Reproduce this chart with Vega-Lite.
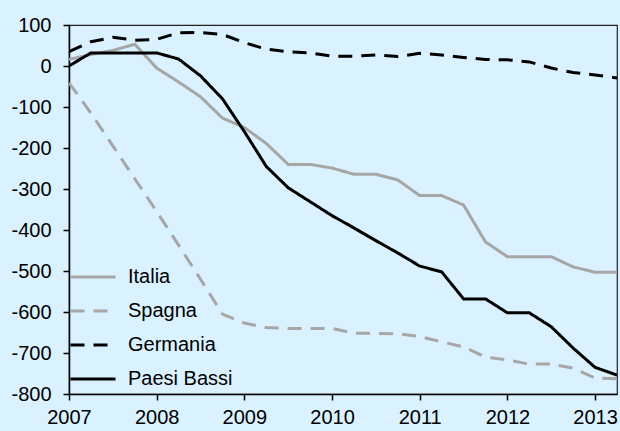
{
  "$schema": "https://vega.github.io/schema/vega-lite/v6.json",
  "width": 548,
  "height": 369,
  "autosize": {"type": "none"},
  "padding": {"left": 69, "top": 25, "right": 3, "bottom": 37},
  "background": "#DAF1FF",
  "config": {
    "font": "Liberation Sans",
    "view": {"stroke": "#222222", "strokeWidth": 1.2, "fill": "#DAF1FF"}
  },
  "data": {
    "values": [
      {"t": 2007.0, "Italia": 16, "Spagna": -41, "Germania": 35, "Paesi Bassi": 0},
      {"t": 2007.25, "Italia": 28, "Spagna": -115, "Germania": 59, "Paesi Bassi": 32},
      {"t": 2007.5, "Italia": 38, "Spagna": -195, "Germania": 70, "Paesi Bassi": 32},
      {"t": 2007.75, "Italia": 53, "Spagna": -275, "Germania": 63, "Paesi Bassi": 32},
      {"t": 2008.0, "Italia": -5, "Spagna": -355, "Germania": 65, "Paesi Bassi": 32},
      {"t": 2008.25, "Italia": -39, "Spagna": -437, "Germania": 81, "Paesi Bassi": 17},
      {"t": 2008.5, "Italia": -75, "Spagna": -520, "Germania": 82, "Paesi Bassi": -24},
      {"t": 2008.75, "Italia": -127, "Spagna": -605, "Germania": 77, "Paesi Bassi": -80},
      {"t": 2009.0, "Italia": -150, "Spagna": -627, "Germania": 57, "Paesi Bassi": -160},
      {"t": 2009.25, "Italia": -189, "Spagna": -638, "Germania": 41, "Paesi Bassi": -245},
      {"t": 2009.5, "Italia": -240, "Spagna": -640, "Germania": 35, "Paesi Bassi": -297},
      {"t": 2009.75, "Italia": -240, "Spagna": -640, "Germania": 32, "Paesi Bassi": -331},
      {"t": 2010.0, "Italia": -249, "Spagna": -640, "Germania": 24, "Paesi Bassi": -365},
      {"t": 2010.25, "Italia": -264, "Spagna": -652, "Germania": 24, "Paesi Bassi": -395},
      {"t": 2010.5, "Italia": -264, "Spagna": -652, "Germania": 27, "Paesi Bassi": -426},
      {"t": 2010.75, "Italia": -278, "Spagna": -653, "Germania": 23, "Paesi Bassi": -456},
      {"t": 2011.0, "Italia": -316, "Spagna": -660, "Germania": 31, "Paesi Bassi": -488},
      {"t": 2011.25, "Italia": -316, "Spagna": -673, "Germania": 27, "Paesi Bassi": -502},
      {"t": 2011.5, "Italia": -339, "Spagna": -685, "Germania": 21, "Paesi Bassi": -568},
      {"t": 2011.75, "Italia": -429, "Spagna": -710, "Germania": 16, "Paesi Bassi": -568},
      {"t": 2012.0, "Italia": -465, "Spagna": -717, "Germania": 15, "Paesi Bassi": -602},
      {"t": 2012.25, "Italia": -465, "Spagna": -727, "Germania": 10, "Paesi Bassi": -602},
      {"t": 2012.5, "Italia": -465, "Spagna": -727, "Germania": -5, "Paesi Bassi": -636},
      {"t": 2012.75, "Italia": -490, "Spagna": -737, "Germania": -16, "Paesi Bassi": -688},
      {"t": 2013.0, "Italia": -503, "Spagna": -761, "Germania": -22, "Paesi Bassi": -735},
      {"t": 2013.25, "Italia": -503, "Spagna": -763, "Germania": -29, "Paesi Bassi": -754}
    ]
  },
  "transform": [
    {"fold": ["Italia", "Spagna", "Germania", "Paesi Bassi"], "as": ["serie", "valore"]}
  ],
  "mark": {"type": "line", "strokeWidth": 3, "clip": true},
  "encoding": {
    "x": {
      "field": "t", "type": "quantitative",
      "scale": {"domain": [2007, 2013.25], "nice": false, "zero": false},
      "axis": {
        "title": null, "values": [2007, 2008, 2009, 2010, 2011, 2012, 2013], "format": "d",
        "grid": false, "domainColor": "#000000", "domainWidth": 1.5, "tickColor": "#000000", "tickWidth": 1.5,
        "tickSize": 6, "labelFontSize": 20, "labelColor": "#000000", "labelPadding": 7, "labelFlush": false, "labelOverlap": false
      }
    },
    "y": {
      "field": "valore", "type": "quantitative",
      "scale": {"domain": [-800, 100], "nice": false, "zero": false},
      "axis": {
        "title": null, "values": [-800, -700, -600, -500, -400, -300, -200, -100, 0, 100],
        "labelExpr": "replace(format(datum.value, 'd'), '\u2212', '-')",
        "grid": false, "domainColor": "#000000", "domainWidth": 1.5, "tickColor": "#000000", "tickWidth": 1.5,
        "tickSize": 6, "labelFontSize": 20, "labelColor": "#000000", "labelPadding": 12, "labelFlush": false, "labelOverlap": false
      }
    },
    "color": {
      "field": "serie", "type": "nominal",
      "scale": {"domain": ["Italia", "Spagna", "Germania", "Paesi Bassi"], "range": ["#A6A6A6", "#A6A6A6", "#000000", "#000000"]},
      "legend": {
        "title": null, "orient": "none", "legendX": 0, "legendY": 228,
        "symbolType": "stroke", "symbolSize": 2025, "symbolStrokeWidth": 3,
        "labelFontSize": 20, "labelColor": "#000000", "labelOffset": 11, "rowPadding": 0, "padding": 0
      }
    },
    "strokeDash": {
      "field": "serie", "type": "nominal",
      "scale": {"domain": ["Italia", "Spagna", "Germania", "Paesi Bassi"], "range": [[1, 0], [14, 9], [14, 9], [1, 0]]},
      "legend": null
    },
    "order": {"field": "t", "type": "quantitative"}
  }
}
